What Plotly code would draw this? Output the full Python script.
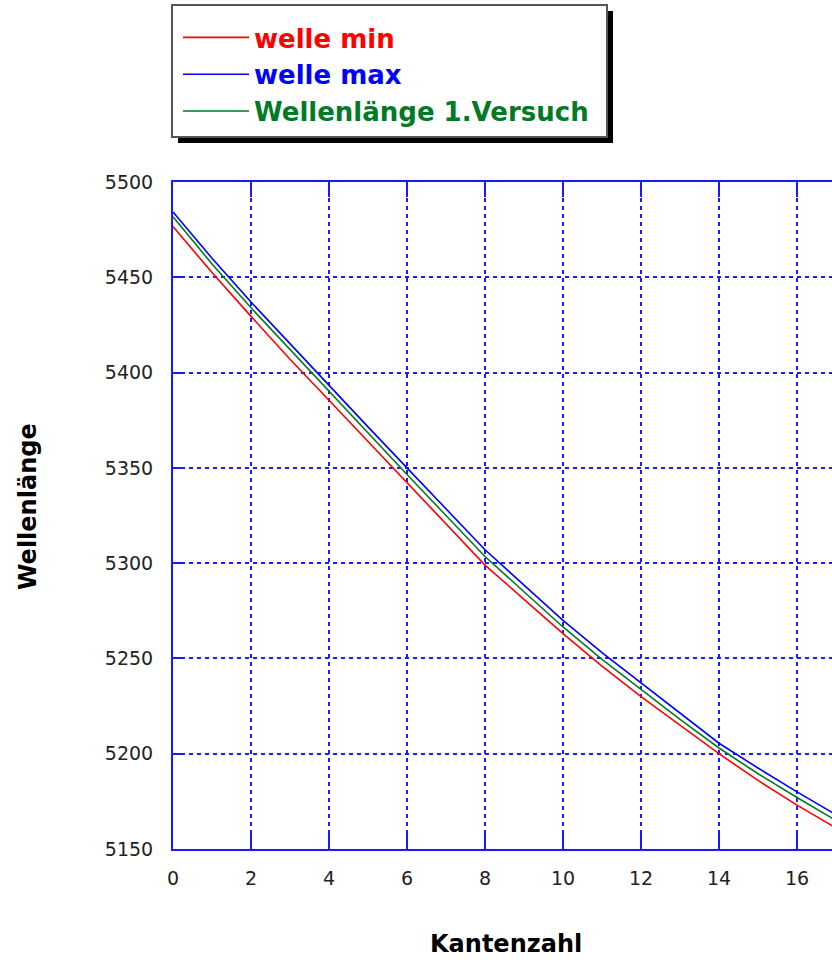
import plotly.graph_objects as go

kantenzahl = list(range(0, 18))
welle_min = [5476.6, 5452.5, 5429.5, 5407, 5385.5, 5364, 5342, 5320.5, 5299, 5281,
             5263, 5246, 5230, 5215, 5200, 5186, 5173, 5161]
welle_max = [5484.3, 5460, 5437, 5415, 5393, 5371.5, 5350, 5328.5, 5307, 5288.5,
             5270, 5253, 5237, 5221, 5205.5, 5192.5, 5180, 5168]
versuch1 = [5481.8, 5457, 5434, 5412, 5390, 5368, 5346.5, 5325, 5303.5, 5285,
            5266.5, 5249.5, 5233.5, 5218, 5203, 5189.5, 5177, 5165]
x_ticks = [0, 2, 4, 6, 8, 10, 12, 14, 16]
y_ticks = [5150, 5200, 5250, 5300, 5350, 5400, 5450, 5500]

RED, BLUE, GREEN = "#ff0000", "#0000ff", "#007a25"
AXC = "#1a1aff"

W, H = 832, 967
L, T, R, B = 173, 182, 0, 118
PW, PH = W - L - R, H - T - B


def px(xp):
    return (xp - L) / PW


def py(yp):
    return (H - B - yp) / PH


fig = go.Figure()
series = [("welle min", welle_min, RED), ("welle max", welle_max, BLUE),
          ("Wellenlänge 1.Versuch", versuch1, GREEN)]
for name, vals, col in series:
    fig.add_trace(go.Scatter(
        x=kantenzahl, y=vals, mode="lines",
        line=dict(color=col, width=1.6),
        name=f"<span style='color:{col}'><b>{name}</b></span>",
    ))

axis_common = dict(
    showline=True, linecolor=AXC, linewidth=2,
    showgrid=True, gridcolor=AXC, gridwidth=2, griddash="4px,4px",
    ticks="inside", tickcolor=AXC, tickwidth=2,
    zeroline=False,
    tickfont=dict(family="DejaVu Sans", size=19, color="#222222"),
)

fig.update_xaxes(range=[0, PW / 39.0], tickvals=x_ticks, ticklen=15,
                 mirror="ticks", ticklabelstandoff=11, **axis_common)
fig.update_yaxes(range=[5150, 5500], tickvals=y_ticks, ticklen=11,
                 mirror=False, ticklabelstandoff=14, **axis_common)

shapes = [
    dict(type="rect", xref="paper", yref="paper",
         x0=px(178), x1=px(613), y0=py(143), y1=py(11),
         fillcolor="black", line=dict(width=0), layer="above"),
    dict(type="rect", xref="paper", yref="paper",
         x0=px(172), x1=px(607), y0=py(137), y1=py(5),
         fillcolor="white", line=dict(color="#555555", width=2), layer="above"),
]

annotations = [
    dict(text="<b>Kantenzahl</b>", xref="paper", yref="paper",
         x=px(506), y=py(944), showarrow=False, xanchor="center", yanchor="middle",
         font=dict(family="DejaVu Sans", size=24, color="black")),
    dict(text="<b>Wellenlänge</b>", xref="paper", yref="paper",
         x=px(28), y=py(507), showarrow=False, xanchor="center", yanchor="middle",
         textangle=-90, font=dict(family="DejaVu Sans", size=24, color="black")),
]

fig.update_layout(
    width=W, height=H,
    margin=dict(l=L, r=R, t=T, b=B, pad=0),
    paper_bgcolor="white", plot_bgcolor="white",
    showlegend=True,
    legend=dict(x=px(178), y=py(14), xanchor="left", yanchor="top",
                bgcolor="rgba(0,0,0,0)", borderwidth=0,
                font=dict(family="DejaVu Sans", size=26),
                itemwidth=66, tracegroupgap=0),
    shapes=shapes,
    annotations=annotations,
)

fig.write_html("out.html", config={"displayModeBar": False},
               post_script="document.body.style.margin='0';document.body.style.overflow='hidden';")
